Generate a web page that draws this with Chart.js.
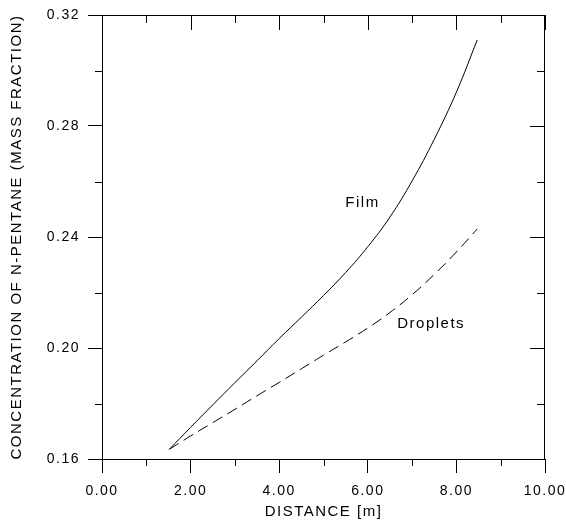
<!DOCTYPE html>
<html>
<head>
<meta charset="utf-8">
<script src="https://cdn.jsdelivr.net/npm/chart.js@4"></script>
<style>
  html, body { margin: 0; padding: 0; background: #fff; }
  #wrap { width: 566px; height: 522px; }
</style>
</head>
<body>
<div id="wrap"><canvas id="c"></canvas></div>
<script>
// distance [m]
const distance = [1.52, 2.0, 2.5, 3.0, 3.5, 4.0, 4.5, 5.0, 5.5, 6.0, 6.5, 7.0, 7.5, 8.0, 8.47]
// n-pentane mass fraction
const film = [0.1635, 0.1714, 0.1795, 0.1875, 0.1954, 0.2034, 0.2111, 0.2189, 0.2272, 0.2365, 0.2472, 0.2602, 0.2752, 0.2922, 0.3110]
const droplets = [0.1635, 0.1683, 0.1731, 0.1779, 0.1828, 0.1876, 0.1925, 0.1974, 0.2022, 0.2072, 0.2128, 0.2192, 0.2265, 0.2346, 0.2429]

const xTicks = [0, 2, 4, 6, 8, 10]
const xMinor = [1, 3, 5, 7, 9]
const yTicks = [0.16, 0.20, 0.24, 0.28, 0.32]
const yMinor = [0.18, 0.22, 0.26, 0.30]

const labels = [
  {text: 'Film', x: 5.88, y: 0.2524},
  {text: 'Droplets', x: 7.43, y: 0.2087}
]

const toPoints = (xs, ys) => xs.map((x, i) => ({x: x, y: ys[i]}))

Chart.defaults.color = '#000'
Chart.defaults.font.family = "'Liberation Sans', Arial, sans-serif"

const frame = {
  id: 'frame',
  beforeDraw(chart) {
    chart.ctx.letterSpacing = '1.5px'
  },
  afterDraw(chart) {
    const ctx = chart.ctx
    const xs = chart.scales.x, ys = chart.scales.y
    const {left, right, top, bottom} = chart.chartArea
    ctx.save()
    ctx.strokeStyle = '#000'
    ctx.lineWidth = 1
    ctx.beginPath()
    // top and right border
    ctx.moveTo(left, top + 0.5); ctx.lineTo(right, top + 0.5)
    ctx.moveTo(right - 0.5, top); ctx.lineTo(right - 0.5, bottom)
    // top ticks pointing in
    xTicks.forEach(v => {
      const px = Math.round(xs.getPixelForValue(v)) + 0.5
      ctx.moveTo(px, top); ctx.lineTo(px, top + 15)
    })
    xMinor.forEach(v => {
      const px = Math.round(xs.getPixelForValue(v)) + 0.5
      ctx.moveTo(px, top); ctx.lineTo(px, top + 8)
      ctx.moveTo(px, bottom); ctx.lineTo(px, bottom + 7)
    })
    yTicks.forEach(v => {
      const py = Math.round(ys.getPixelForValue(v)) + 0.5
      ctx.moveTo(right, py); ctx.lineTo(right - 15, py)
    })
    yMinor.forEach(v => {
      const py = Math.round(ys.getPixelForValue(v)) + 0.5
      ctx.moveTo(right, py); ctx.lineTo(right - 8, py)
      ctx.moveTo(left, py); ctx.lineTo(left - 7, py)
    })
    ctx.stroke()

    ctx.fillStyle = '#000'
    ctx.font = "15px 'Liberation Sans', Arial, sans-serif"
    ctx.textAlign = 'center'
    ctx.textBaseline = 'middle'
    labels.forEach(l => {
      ctx.fillText(l.text, xs.getPixelForValue(l.x), ys.getPixelForValue(l.y))
    })
    ctx.restore()
  }
}

new Chart(document.getElementById('c'), {
  type: 'line',
  data: {
    datasets: [
      {
        label: 'Film',
        data: toPoints(distance, film),
        borderColor: '#000',
        borderWidth: 1,
        pointRadius: 0,
        tension: 0.4
      },
      {
        label: 'Droplets',
        data: toPoints(distance, droplets),
        borderColor: '#000',
        borderWidth: 1,
        borderDash: [11, 6],
        pointRadius: 0,
        tension: 0.4
      }
    ]
  },
  options: {
    responsive: true,
    maintainAspectRatio: false,
    animation: false,
    layout: {padding: {top: 15, right: 21, left: 0, bottom: 0}},
    plugins: {
      legend: {display: false},
      tooltip: {enabled: false}
    },
    scales: {
      x: {
        type: 'linear',
        min: 0,
        max: 10,
        afterFit: (s) => { s.height = 63; s.paddingLeft = 0; s.paddingRight = 0 },
        afterBuildTicks: (s) => { s.ticks = xTicks.map(v => ({value: v})) },
        ticks: {
          padding: 10,
          font: {size: 14},
          callback: (v) => Number(v).toFixed(2)
        },
        grid: {drawOnChartArea: false, tickLength: 14, color: '#000'},
        border: {color: '#000'},
        title: {
          display: true,
          text: 'DISTANCE [m]',
          font: {size: 15},
          padding: {top: 0, bottom: 1}
        }
      },
      y: {
        type: 'linear',
        min: 0.16,
        max: 0.32,
        afterFit: (s) => { s.width = 102; s.paddingTop = 0; s.paddingBottom = 0 },
        afterBuildTicks: (s) => { s.ticks = yTicks.map(v => ({value: v})) },
        ticks: {
          padding: 8,
          font: {size: 14},
          callback: (v) => Number(v).toFixed(2)
        },
        grid: {drawOnChartArea: false, tickLength: 14, color: '#000'},
        border: {color: '#000'},
        title: {
          display: true,
          text: 'CONCENTRATION OF N-PENTANE (MASS FRACTION)',
          font: {size: 15},
          padding: {top: 8, bottom: 0}
        }
      }
    }
  },
  plugins: [frame]
})
</script>
</body>
</html>
